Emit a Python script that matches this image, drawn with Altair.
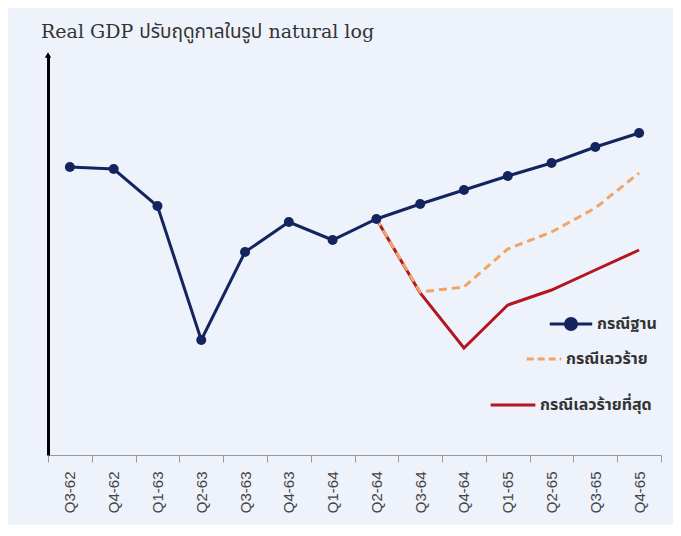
import altair as alt
import pandas as pd

quarters = ["Q3-62", "Q4-62", "Q1-63", "Q2-63", "Q3-63", "Q4-63", "Q1-64",
            "Q2-64", "Q3-64", "Q4-64", "Q1-65", "Q2-65", "Q3-65", "Q4-65"]
base_vals = [288, 286, 249, 115, 203, 233, 215, 236, 251, 265, 279, 292, 308, 322]
worse_q = ["Q2-64", "Q3-64", "Q4-64", "Q1-65", "Q2-65", "Q3-65", "Q4-65"]
worse_vals = [236, 163, 168, 206, 223, 247, 282]
worst_vals = [236, 162, 107, 150, 165, 185, 205]
names = ["กรณีฐาน", "กรณีเลวร้าย", "กรณีเลวร้ายที่สุด"]
colors = ["#14245e", "#f0a565", "#b3161f"]

df_base = pd.DataFrame({"q": quarters, "v": base_vals, "s": names[0]})
df_worse = pd.DataFrame({"q": worse_q, "v": worse_vals, "s": names[1]})
df_worst = pd.DataFrame({"q": worse_q, "v": worst_vals, "s": names[2]})

thai = "Noto Sans Thai, Noto Sans, DejaVu Sans, sans-serif"

x_enc = alt.X("q:N", sort=quarters, bandPosition=0.5,
              scale=alt.Scale(type="band", domain=quarters, paddingInner=0, paddingOuter=0),
              axis=alt.Axis(title=None, tickBand="extent", labelAngle=270, labelFontSize=15,
                            labelColor="#444", labelFont="Liberation Sans", tickColor="#999",
                            tickSize=7, domainColor="#999", domainWidth=1, labelPadding=9,
                            grid=False))
y_enc = alt.Y("v:Q", scale=alt.Scale(domain=[0, 400]),
              axis=alt.Axis(title=None, labels=False, ticks=False, grid=False,
                            domainColor="black", domainWidth=3))


def leg(x, y, stype, size, dash=None):
    kw = dict(orient="none", legendX=x, legendY=y, symbolType=stype, symbolSize=size,
              symbolStrokeWidth=3, labelFont=thai, labelFontSize=16, labelFontWeight="bold",
              labelColor="#333", padding=0, labelOffset=3, labelLimit=300)
    if dash:
        kw["symbolDash"] = dash
    return alt.Legend(**kw)


dot_path = "M-1,0L1,0M-0.26,0A0.26,0.26,0,1,1,0.26,0A0.26,0.26,0,1,1,-0.26,0Z"

worst = alt.Chart(df_worst).mark_line(strokeWidth=3).encode(
    x=x_enc, y=y_enc,
    color=alt.Color("s:N", title=None, scale=alt.Scale(domain=[names[2]], range=[colors[2]]),
                    legend=leg(441, 326, "stroke", 2000)))
worse = alt.Chart(df_worse).mark_line(strokeWidth=3, strokeDash=[8, 5]).encode(
    x=x_enc, y=y_enc,
    color=alt.Color("s:N", title=None, scale=alt.Scale(domain=[names[1]], range=[colors[1]]),
                    legend=leg(477, 285, "stroke", 1200, [7, 4])))
base = alt.Chart(df_base).mark_line(strokeWidth=3, point=alt.OverlayMarkDef(size=100, filled=True)).encode(
    x=x_enc, y=y_enc,
    color=alt.Color("s:N", title=None, scale=alt.Scale(domain=[names[0]], range=[colors[0]]),
                    legend=leg(500, 246, dot_path, 1800)))
arrow = alt.Chart(df_base.head(1)).mark_point(shape="triangle-up", filled=True, size=40,
                                               color="black", opacity=1).encode(
    x=alt.value(0), y=alt.Y(datum=400, scale=alt.Scale(domain=[0, 400])))

chart = alt.layer(worst, worse, base, arrow).resolve_scale(color="independent").properties(
    width=613, height=400, autosize="none",
    padding={"left": 40, "top": 47, "right": 12, "bottom": 70},
    title=alt.Title("Real GDP ปรับฤดูกาลในรูป natural log", anchor="start", dx=0, offset=10,
                    fontSize=19, font="DejaVu Serif, " + thai, fontWeight="normal", color="#333"),
).configure(background="#eef2fb").configure_view(stroke=None)

chart.save("out.html", embed_options={"renderer": "svg", "actions": False})
